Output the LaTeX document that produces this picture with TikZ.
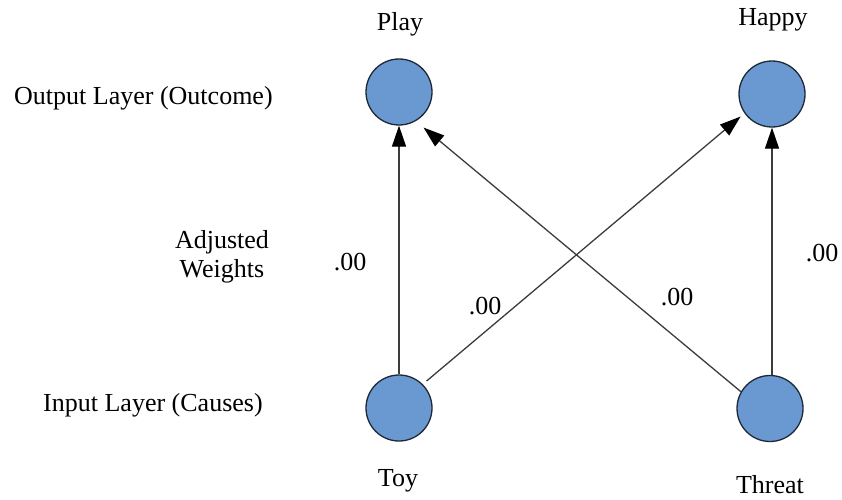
\documentclass[tikz,border=0pt]{standalone}
\usepackage{fontspec}
\setmainfont{Liberation Serif}
\usetikzlibrary{arrows.meta}
\definecolor{nodefill}{HTML}{6A98D0}
\definecolor{nodeedge}{HTML}{1E2836}
\definecolor{linecol}{HTML}{3C3C3C}
\tikzset{
  unit/.style={circle, draw=nodeedge, line width=1.3pt, fill=nodefill, minimum size=66pt, inner sep=0pt},
  lbl/.style={font=\fontsize{26}{29}\selectfont, text=black, inner sep=0pt},
  conn/.style={draw=linecol, line width=1.3pt, -{Triangle[length=21pt, width=14pt, color=black, fill=black]}},
}
\begin{document}
\begin{tikzpicture}[x=1pt, y=1pt]
\useasboundingbox (0,0) rectangle (842,499);
% nodes (y = 499 - pixel row)
\node[unit] (play)   at (399, 407) {};
\node[unit] (happy)  at (772, 405) {};
\node[unit] (toy)    at (399, 91) {};
\node[unit] (threat) at (770, 90.5) {};
% node labels
\node[lbl] (lplay)   at (400, 475) {Play};
\node[lbl] (lhappy)  at (773, 479) {Happy};
\node[lbl] (ltoy)    at (398, 18) {Toy};
\node[lbl] (lthreat) at (770, 14) {Threat};
% layer labels
\node[lbl, anchor=west] (lout) at (14, 401) {Output Layer (Outcome)};
\node[lbl, align=center] (ladj) at (222, 242) {Adjusted\\Weights};
\node[lbl, anchor=west] (lin) at (43, 94) {Input Layer (Causes)};
% connectors
\draw[conn] (toy) -- (play);
\draw[conn] (threat.north -| happy) -- (happy);
\draw[conn, shorten >=10pt] (threat.150) -- (play.-60);
\draw[conn, shorten <=5pt, shorten >=5pt] (toy.45) -- (happy.215);
% weights
\node[lbl] (w1) at (350, 237) {.00};
\node[lbl] (w2) at (485, 193) {.00};
\node[lbl] (w3) at (677, 202) {.00};
\node[lbl] (w4) at (822, 246) {.00};
\end{tikzpicture}
\end{document}
